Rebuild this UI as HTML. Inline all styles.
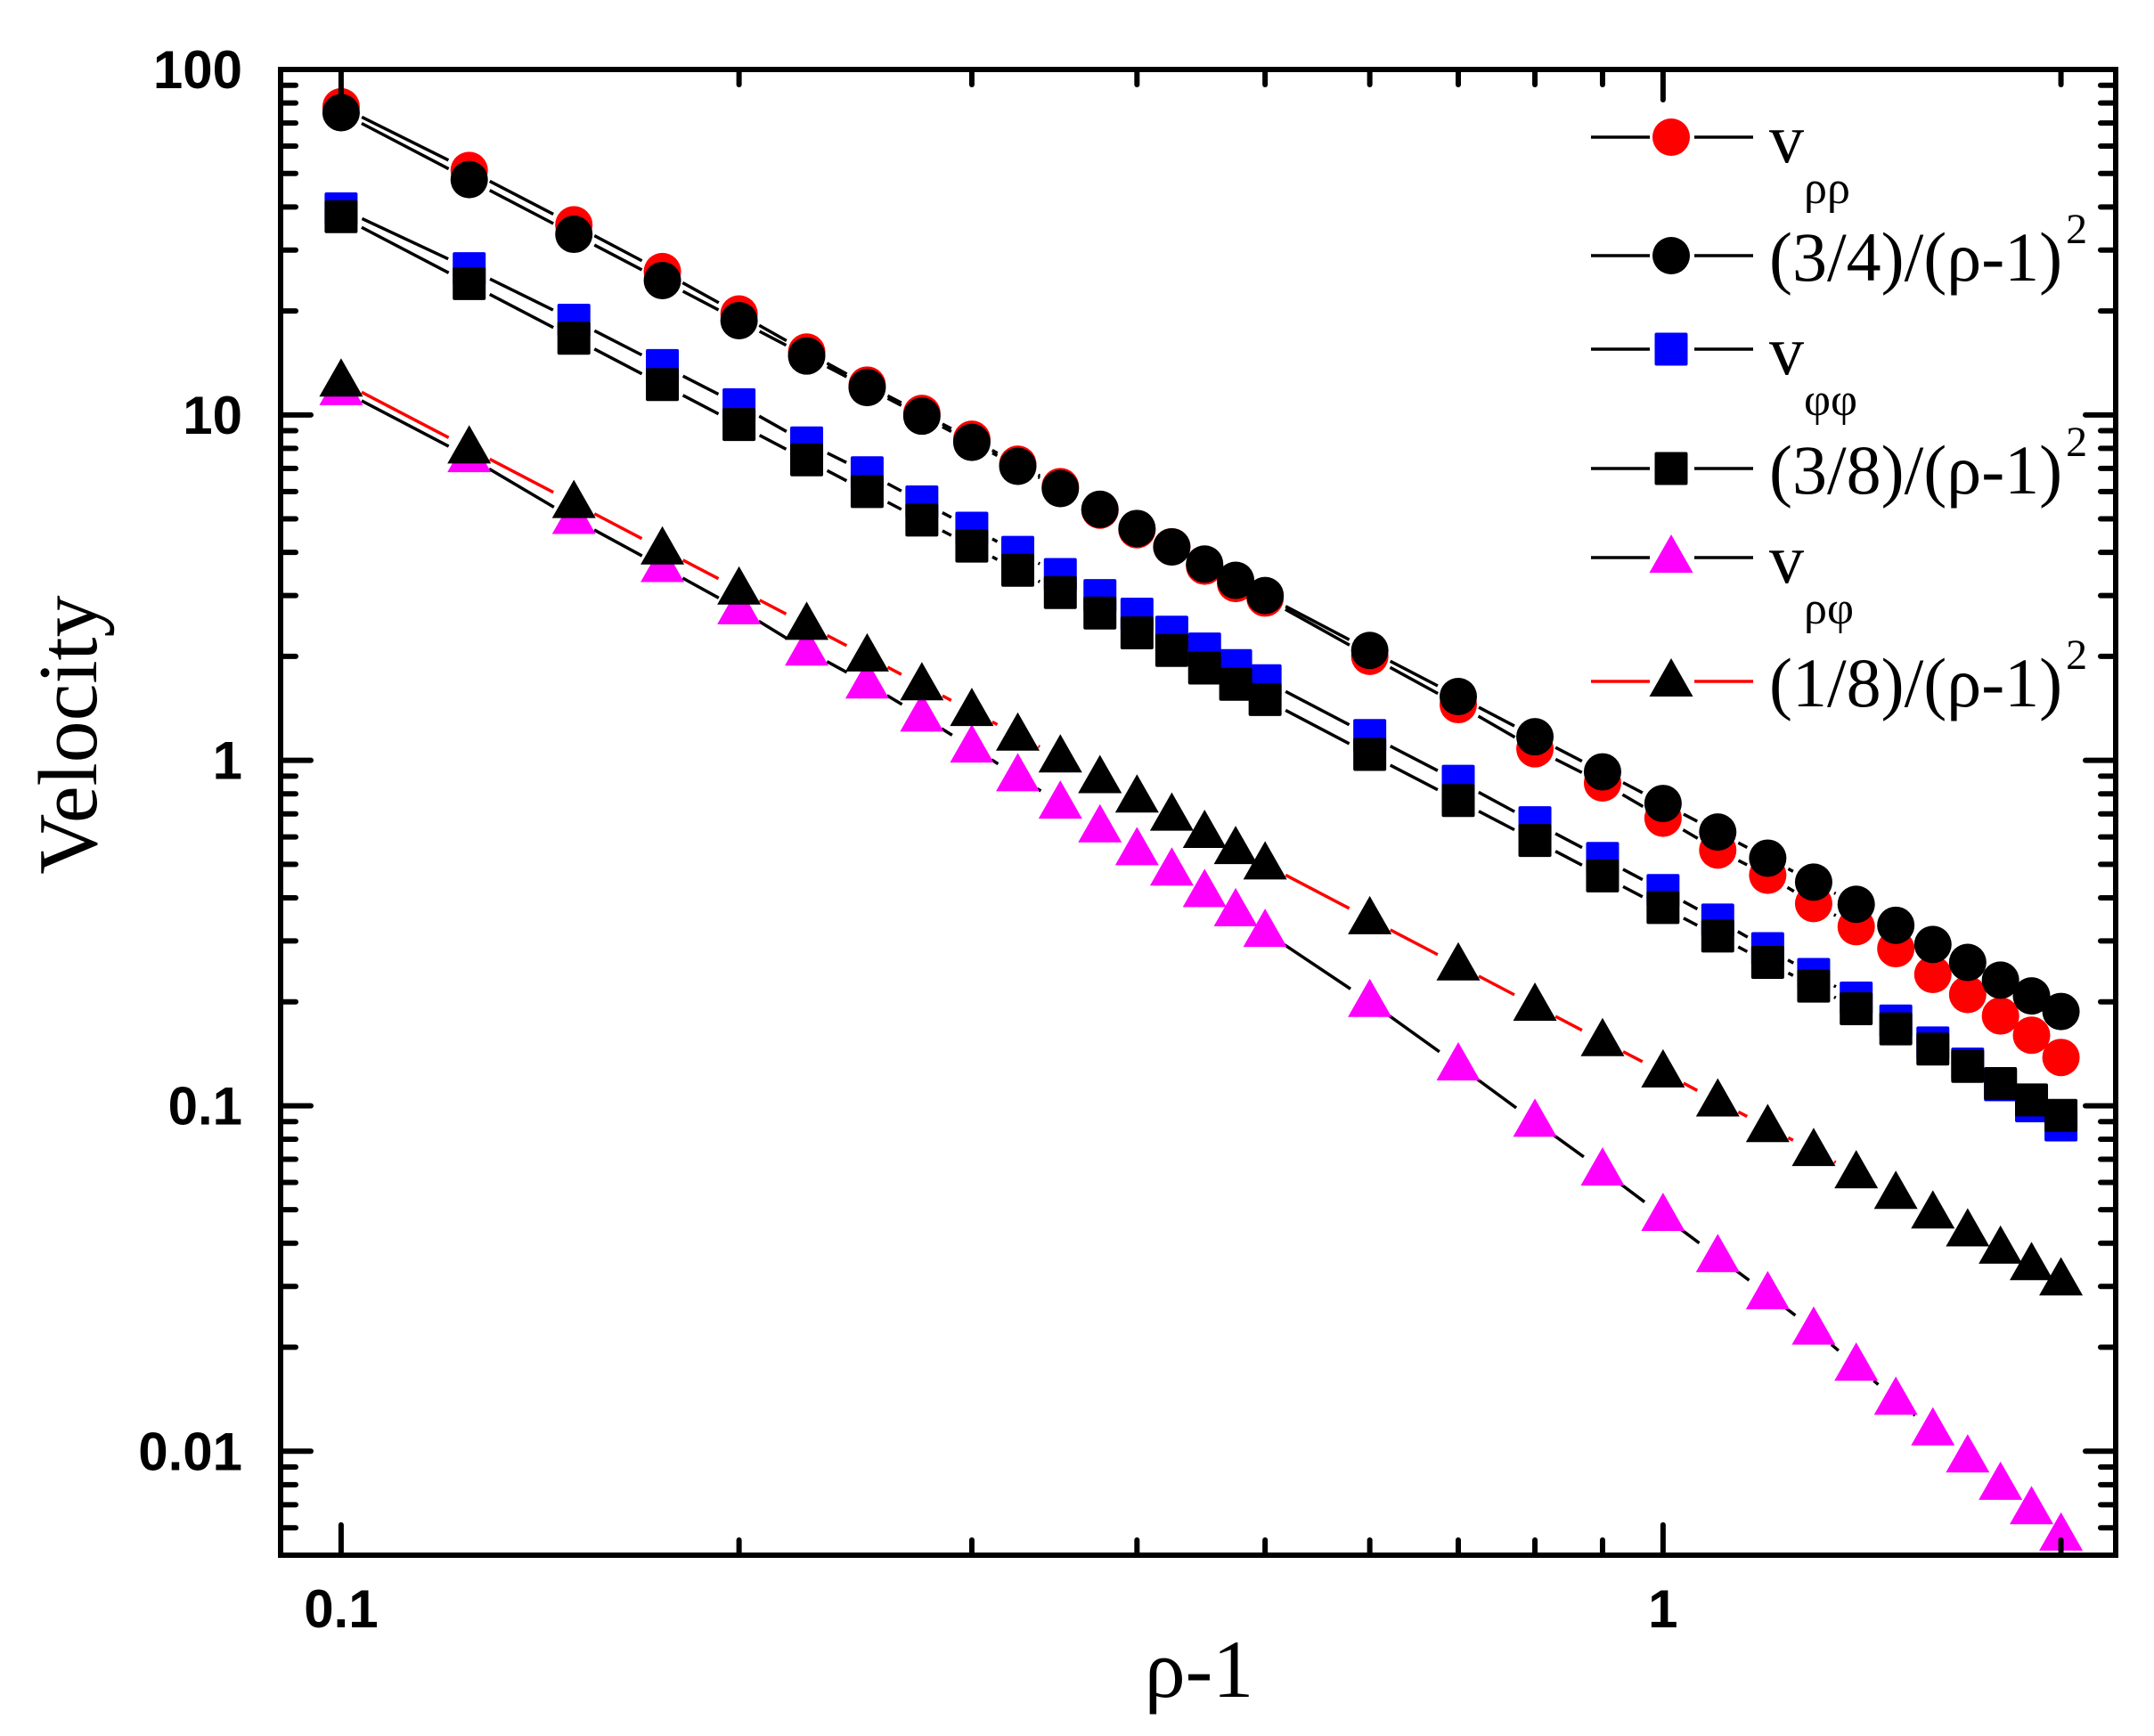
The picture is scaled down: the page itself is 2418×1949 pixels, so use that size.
<!DOCTYPE html>
<html><head><meta charset="utf-8"><style>
html,body{margin:0;padding:0;background:#fff;}
svg{display:block;}
</style></head><body>
<svg id="chart" width="2418" height="1949" viewBox="0 0 2418 1949" xmlns="http://www.w3.org/2000/svg">
<rect x="0" y="0" width="2418" height="1949" fill="#fff"/>
<g id="series"></g>
<g id="axes"></g>
<text transform="translate(108,825) rotate(-90)" text-anchor="middle" font-family="Liberation Serif, serif" font-size="94">Velocity</text>
<text x="1346" y="1905" text-anchor="middle" font-family="Liberation Serif, serif" font-size="92">ρ-1</text>
<g id="legend"></g>
</svg>
<script>
const xValues=[0.1,0.125,0.15,0.175,0.2,0.225,0.25,0.275,0.3,0.325,0.35,0.375,0.4,0.425,0.45,0.475,0.5,0.6,0.7,0.8,0.9,1.0,1.1,1.2,1.3,1.4,1.5,1.6,1.7,1.8,1.9,2.0];
const vRhoRho=[78,51,35.5,26,19.6,15.2,12.2,10.1,8.5,7.2,6.2,5.3,4.65,4.15,3.65,3.25,2.95,2.0,1.45,1.08,0.86,0.68,0.55,0.465,0.385,0.33,0.285,0.24,0.21,0.182,0.16,0.138];
const theory34=[75,48,33.33,24.49,18.75,14.81,12,9.92,8.33,7.10,6.12,5.33,4.69,4.15,3.70,3.32,3.0,2.08,1.53,1.17,0.926,0.75,0.620,0.521,0.444,0.383,0.333,0.293,0.260,0.231,0.208,0.1875];
const vPhiPhi=[39.5,26.5,18.8,13.9,10.7,8.3,6.8,5.6,4.7,4.0,3.45,3.0,2.65,2.35,2.1,1.88,1.7,1.18,0.87,0.66,0.52,0.42,0.345,0.285,0.24,0.205,0.176,0.152,0.132,0.115,0.10,0.088];
const theory38=[37.5,24,16.67,12.24,9.375,7.41,6,4.96,4.17,3.55,3.06,2.67,2.34,2.08,1.85,1.66,1.5,1.04,0.765,0.586,0.463,0.375,0.310,0.260,0.222,0.191,0.167,0.146,0.130,0.116,0.104,0.09375];
const vRhoPhi=[11.8,7.55,5.0,3.63,2.74,2.08,1.67,1.34,1.09,0.90,0.75,0.64,0.55,0.48,0.416,0.366,0.319,0.20,0.131,0.090,0.065,0.048,0.0365,0.0285,0.0225,0.0177,0.0141,0.0115,0.0096,0.0080,0.0068,0.0057];
const theory18=[12.5,8,5.56,4.08,3.125,2.47,2,1.65,1.39,1.18,1.02,0.889,0.781,0.692,0.617,0.554,0.5,0.347,0.255,0.195,0.154,0.125,0.103,0.0868,0.0740,0.0638,0.0556,0.0488,0.0433,0.0386,0.0346,0.03125];
const xTickLabels=["0.1","1"];
const xTickValues=[0.1,1];
const yTickLabels=["0.01","0.1","1","10","100"];
const yTickValues=[0.01,0.1,1,10,100];

const NS="http://www.w3.org/2000/svg";
const L=315,R=2375,T=78,B=1746;
const xMin=0.09,xMax=2.2,yMin=0.005,yMax=100;
function xs(v){return L+(Math.log10(v)-Math.log10(xMin))/(Math.log10(xMax)-Math.log10(xMin))*(R-L);}
function ys(v){return B-(Math.log10(v)-Math.log10(yMin))/(Math.log10(yMax)-Math.log10(yMin))*(B-T);}
function mk(tag,attrs,parent){const e=document.createElementNS(NS,tag);for(const k in attrs)e.setAttribute(k,attrs[k]);parent.appendChild(e);return e;}

const seriesG=document.getElementById('series');
const axesG=document.getElementById('axes');
const legendG=document.getElementById('legend');

function marker(shape,cx,cy,fill,parent){
  let e;
  if(shape==='circle'){e=mk('circle',{cx:cx,cy:cy,r:21,fill:fill},parent);}
  else if(shape==='square'){e=mk('rect',{x:cx-18.5,y:cy-18.5,width:37,height:37,rx:2,fill:fill},parent);}
  else {e=mk('polygon',{points:(cx)+','+(cy-26)+' '+(cx-24.5)+','+(cy+17)+' '+(cx+24.5)+','+(cy+17),fill:fill},parent);}
  return e;
}

const seriesDefs=[
 {name:'v-rho-rho',vals:vRhoRho,shape:'circle',fill:'#ff0000',line:'#000'},
 {name:'theory-3-4',vals:theory34,shape:'circle',fill:'#000',line:'#000'},
 {name:'v-phi-phi',vals:vPhiPhi,shape:'square',fill:'#0000ff',line:'#000'},
 {name:'theory-3-8',vals:theory38,shape:'square',fill:'#000',line:'#000'},
 {name:'v-rho-phi',vals:vRhoPhi,shape:'triangle',fill:'#ff00ff',line:'#000'},
 {name:'theory-1-8',vals:theory18,shape:'triangle',fill:'#000',line:'#ff0000'}
];

seriesDefs.forEach(function(s){
  const g=mk('g',{},seriesG);
  
  
  for(let i=0;i<xValues.length-1;i++){
    const x1=xs(xValues[i]),y1=ys(s.vals[i]),x2=xs(xValues[i+1]),y2=ys(s.vals[i+1]);
    const dx=x2-x1,dy=y2-y1,d=Math.hypot(dx,dy),g0=26;
    if(d>2*g0){
      const ln=mk('line',{x1:x1+dx*g0/d,y1:y1+dy*g0/d,x2:x2-dx*g0/d,y2:y2-dy*g0/d,stroke:s.line,'stroke-width':3.5},g);
      
      
    }
  }
  for(let i=0;i<xValues.length;i++){
    const m=marker(s.shape,xs(xValues[i]),ys(s.vals[i]),s.fill,g);
    
    
  }
});

const frame=mk('rect',{x:L,y:T,width:R-L,height:B-T,fill:'none',stroke:'#000','stroke-width':6},axesG);



for(let e=-3;e<=2;e++){
  for(let m=1;m<=9;m++){
    const v=m*Math.pow(10,e);
    if(v<yMin*0.999||v>yMax*1.001)continue;
    const y=ys(v),len=(m===1)?34:17;
    const t1=mk('line',{x1:L,y1:y,x2:L+len,y2:y,stroke:'#000','stroke-width':6,'stroke-linecap':'round'},axesG);
    
    
    const t2=mk('line',{x1:R,y1:y,x2:R-len,y2:y,stroke:'#000','stroke-width':6,'stroke-linecap':'round'},axesG);
    
    
  }
}
for(let e=-2;e<=0;e++){
  for(let m=1;m<=9;m++){
    const v=m*Math.pow(10,e);
    if(v<xMin||v>xMax)continue;
    const x=xs(v),len=(m===1)?34:17;
    const t1=mk('line',{x1:x,y1:B,x2:x,y2:B-len,stroke:'#000','stroke-width':6,'stroke-linecap':'round'},axesG);
    
    
    const t2=mk('line',{x1:x,y1:T,x2:x,y2:T+len,stroke:'#000','stroke-width':6,'stroke-linecap':'round'},axesG);
    
    
  }
}
yTickValues.forEach(function(v,i){
  const t=mk('text',{x:272,y:ys(v)+21,'text-anchor':'end','font-family':'Liberation Sans, sans-serif','font-weight':'bold','font-size':60},axesG);
  t.textContent=yTickLabels[i];
  
  
});
xTickValues.forEach(function(v,i){
  const t=mk('text',{x:xs(v),y:1827,'text-anchor':'middle','font-family':'Liberation Sans, sans-serif','font-weight':'bold','font-size':60},axesG);
  t.textContent=xTickLabels[i];
  
  
});

const legRows=[
 {y:154,shape:'circle',fill:'#ff0000',line:'#000',main:'v',sub:'ρρ'},
 {y:287,shape:'circle',fill:'#000',line:'#000',main:'(3/4)/(ρ-1)',sup:'2'},
 {y:392,shape:'square',fill:'#0000ff',line:'#000',main:'v',sub:'φφ'},
 {y:526,shape:'square',fill:'#000',line:'#000',main:'(3/8)/(ρ-1)',sup:'2'},
 {y:626,shape:'triangle',fill:'#ff00ff',line:'#000',main:'v',sub:'ρφ'},
 {y:765,shape:'triangle',fill:'#000',line:'#ff0000',main:'(1/8)/(ρ-1)',sup:'2'}
];
legRows.forEach(function(r){
  const g=mk('g',{},legendG);
  
  
  mk('line',{x1:1786,y1:r.y,x2:1852,y2:r.y,stroke:r.line,'stroke-width':3.5},g);
  mk('line',{x1:1902,y1:r.y,x2:1968,y2:r.y,stroke:r.line,'stroke-width':3.5},g);
  marker(r.shape,1876,r.y,r.fill,g);
  const t=mk('text',{x:1986,y:r.y+28,'font-family':'Liberation Serif, serif','font-size':78},g);
  t.textContent=r.main;
  if(r.sub){
    const s=mk('tspan',{dy:46,'font-size':52},t);
    s.textContent=r.sub;
  }
  if(r.sup){
    const s=mk('tspan',{dy:-42,dx:4,'font-size':48},t);
    s.textContent=r.sup;
  }
});
</script>
</body></html>
